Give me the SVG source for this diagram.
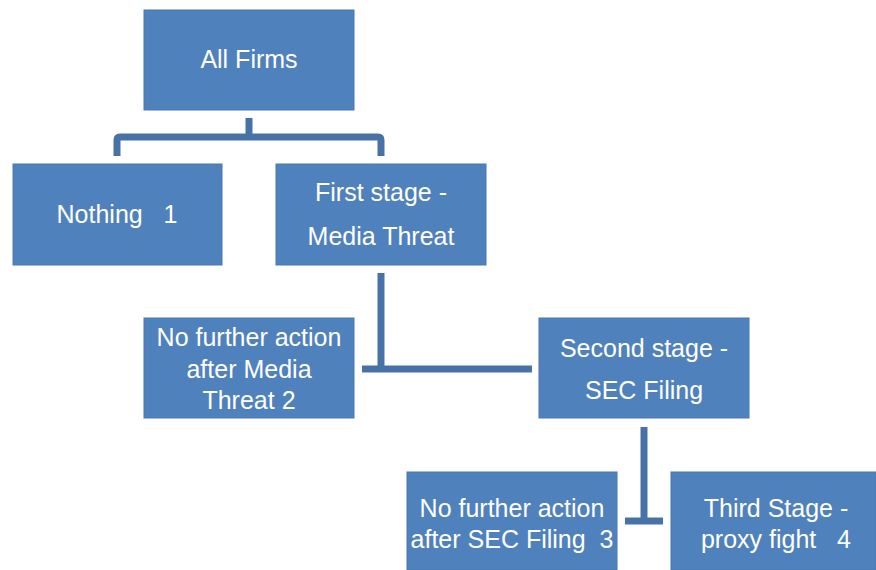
<svg xmlns="http://www.w3.org/2000/svg" width="876" height="570" viewBox="0 0 876 570">
<style>
.box{fill:#4f81bd;stroke:#4a78b2;stroke-width:1}
.t{fill:#ffffff;font-family:"Liberation Sans",Arial,sans-serif;font-size:25px;text-anchor:middle}
.c{fill:none;stroke:#4672a8;stroke-width:7}
</style>
<rect width="876" height="570" fill="#ffffff"/>
<g id="connectors">
<path class="c" d="M249 118 V137"/>
<path class="c" d="M117 156 V140 Q117 137 120 137 H378 Q381 137 381 140 V156" stroke-linejoin="round"/>
<path class="c" d="M381 273 V372"/>
<path class="c" d="M362 369 H532"/>
<path class="c" d="M644 427 V523"/>
<path class="c" d="M625 521 H663"/>
</g>
<g id="all-firms"><rect class="box" x="144" y="10" width="210" height="100"/><text class="t" x="249" y="68">All Firms</text></g>
<g id="nothing"><rect class="box" x="13" y="164" width="209" height="101"/><text class="t" x="117" y="223" xml:space="preserve">Nothing   1</text></g>
<g id="first-stage"><rect class="box" x="276" y="164" width="210" height="101"/><text class="t" x="381" y="201">First stage -</text><text class="t" x="381" y="245">Media Threat</text></g>
<g id="no-action-media"><rect class="box" x="144" y="318" width="210" height="100"/><text class="t" x="249" y="346">No further action</text><text class="t" x="249" y="378">after Media</text><text class="t" x="249" y="409">Threat 2</text></g>
<g id="second-stage"><rect class="box" x="539" y="318" width="210" height="100"/><text class="t" x="644" y="357">Second stage -</text><text class="t" x="644" y="399">SEC Filing</text></g>
<g id="no-action-sec"><rect class="box" x="407" y="472" width="210" height="98"/><text class="t" x="512" y="517">No further action</text><text class="t" x="512" y="548" xml:space="preserve">after SEC Filing  3</text></g>
<g id="third-stage"><rect class="box" x="671" y="472" width="205" height="98"/><text class="t" x="776" y="517">Third Stage -</text><text class="t" x="776" y="548" xml:space="preserve">proxy fight   4</text></g>
</svg>
